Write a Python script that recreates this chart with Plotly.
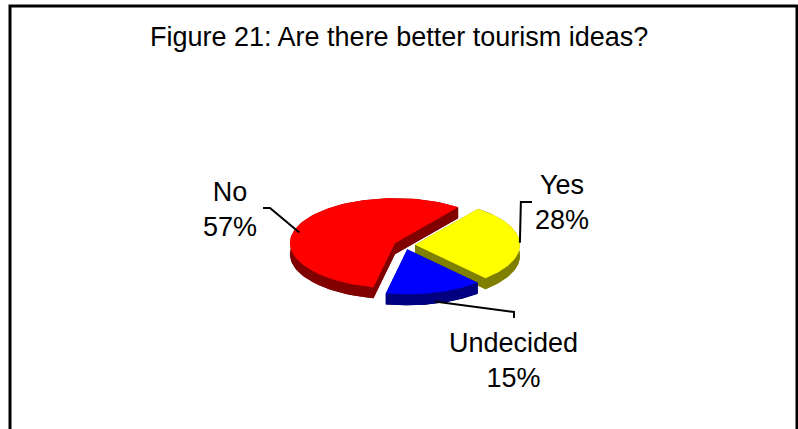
import numpy as np
import plotly.graph_objects as go

# Survey answers
labels = ["Yes", "Undecided", "No"]
values = [28, 15, 57]
top_colors = ["#FFFF00", "#0000FF", "#FF0000"]
side_colors = ["#808000", "#000080", "#800000"]
title_text = "Figure 21: Are there better tourism ideas?"

# 3D-look pie geometry (pixel-like coordinates, y grows downward)
CX, CY = 404.5, 245.0      # pie centre
RX, RY = 105.0, 45.0       # ellipse radii of the tilted disc
DEPTH = 11.0               # thickness of the disc
EXPLODE = 0.10             # slice pull-out, fraction of radius
START = 37.0               # angle of first slice, clockwise from 12 o'clock

FONT = "Liberation Sans, Arial"

total = float(sum(values))
spans = [v / total * 360.0 for v in values]
starts = np.cumsum([START] + spans[:-1])


def rim(cx, cy, ang_deg):
    a = np.radians(ang_deg)
    return cx + RX * np.sin(a), cy - RY * np.cos(a)


def poly(xs, ys, color):
    return go.Scatter(x=list(xs) + [xs[0]], y=list(ys) + [ys[0]], mode="lines",
                      fill="toself", fillcolor=color, line=dict(width=0, color=color),
                      hoverinfo="skip", showlegend=False)


slices = []
for lab, val, a0, span, ct, cs in zip(labels, values, starts, spans, top_colors, side_colors):
    mid = np.radians(a0 + span / 2)
    ox = CX + EXPLODE * RX * np.sin(mid)
    oy = CY - EXPLODE * RY * np.cos(mid)
    angs = np.linspace(a0, a0 + span, 90)
    ax, ay = rim(ox, oy, angs)
    slices.append(dict(label=lab, value=val, a0=a0, span=span, ox=ox, oy=oy,
                       ax=ax, ay=ay, ct=ct, cs=cs))

# back slice first, front slice last
order = [2, 0, 1]
fig = go.Figure()
for i in order:
    s = slices[i]
    ox, oy, ax, ay = s["ox"], s["oy"], s["ax"], s["ay"]
    # bottom face
    fig.add_trace(poly([ox] + list(ax), [oy + DEPTH] + list(ay + DEPTH), s["cs"]))
    # curved outer wall
    fig.add_trace(poly(list(ax) + list(ax[::-1]),
                       list(ay) + list(ay[::-1] + DEPTH), s["cs"]))
    # radial cut faces
    for k in (0, -1):
        fig.add_trace(poly([ox, ax[k], ax[k], ox],
                           [oy, ay[k], ay[k] + DEPTH, oy + DEPTH], s["cs"]))
    # top face
    fig.add_trace(poly([ox] + list(ax), [oy] + list(ay), s["ct"]))

# labels and leader lines
label_pos = {"No": (230, 209), "Yes": (562, 202), "Undecided": (513, 360)}
leaders = {
    "No": lambda p: ([263, 270, p[0]], [208, 208, p[1]]),
    "Yes": lambda p: ([p[0], p[0] + 1, 532], [p[1], 202, 202]),
    "Undecided": lambda p: ([p[0], 514, 514], [p[1], 312, 318]),
}
for s in slices:
    mid = s["a0"] + s["span"] / 2
    px, py = rim(s["ox"], s["oy"], mid)
    if np.cos(np.radians(mid)) < 0:
        py += DEPTH * 0.8
    if s["label"] == "No":
        py += 8
    lx, ly = leaders[s["label"]]((px, py))
    fig.add_trace(go.Scatter(x=lx, y=ly, mode="lines", line=dict(color="black", width=2),
                             hoverinfo="skip", showlegend=False))
    tx, ty = label_pos[s["label"]]
    fig.add_annotation(x=tx, y=ty, xref="x", yref="y", showarrow=False,
                       text=f"{s['label']}<br>{s['value']}%",
                       font=dict(family=FONT, size=27, color="black"),
                       align="center")

# frame around the chart area
fig.add_shape(type="rect", xref="x", yref="y", x0=10, y0=6, x1=797, y1=440,
              line=dict(color="black", width=3), fillcolor="rgba(0,0,0,0)")

fig.add_annotation(x=399, y=37, xref="x", yref="y", showarrow=False,
                   text=title_text, font=dict(family=FONT, size=27, color="black"))

fig.update_layout(
    width=798, height=429,
    margin=dict(l=0, r=0, t=0, b=0),
    paper_bgcolor="white", plot_bgcolor="white",
    xaxis=dict(range=[0, 798], visible=False, fixedrange=True),
    yaxis=dict(range=[429, 0], visible=False, fixedrange=True),
    showlegend=False,
)

fig.write_html("out.html")
